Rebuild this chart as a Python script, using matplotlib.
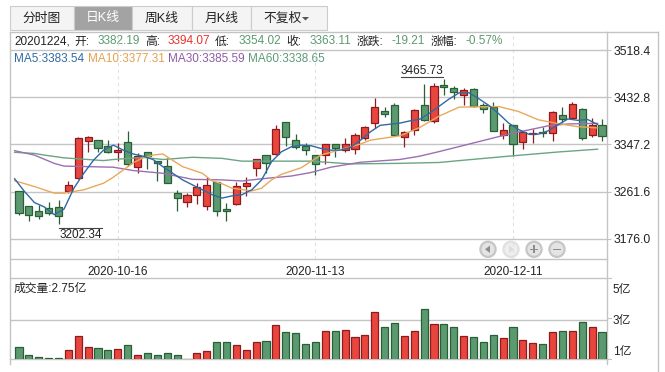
import numpy as np
import matplotlib
matplotlib.use('Agg')
import matplotlib.pyplot as plt
from matplotlib.patches import Rectangle, Circle, Polygon

plt.rcParams['font.family'] = ['Liberation Sans', 'Noto Sans CJK SC']

# Daily candles
open_p = [3262, 3235, 3226, 3231.5, 3233.3, 3262.9, 3287, 3354.1, 3354.8, 3343.9,
          3334.2, 3351.2, 3306.9, 3333.1, 3316.7, 3307.7, 3258.7, 3242.4, 3256.2, 3236.2,
          3278.6, 3229.7, 3239.8, 3272.5, 3305.1, 3327.6, 3330.5, 3387.5, 3354.8, 3343.9,
          3327.6, 3327.6, 3347.6, 3337.8, 3339.6, 3359.5, 3385.6, 3407.4, 3418.3, 3360.2,
          3374, 3418.3, 3390.4, 3454.6, 3449.7, 3437.5, 3447.3, 3418.3, 3415.8, 3365,
          3382.6, 3351.2, 3365.7, 3370.4, 3368.6, 3400.2, 3394.7, 3411, 3363.9, 3382.19]
close_p = [3223.5, 3220, 3218, 3223.5, 3218, 3273.2, 3358.4, 3360.2, 3341.4, 3334.2,
           3337.2, 3312.4, 3326.9, 3326.9, 3314.2, 3277.9, 3250.7, 3255.1, 3269.6, 3273.2,
           3226.1, 3227.1, 3271.4, 3276.8, 3320.4, 3314.2, 3374.8, 3360.2, 3343.2, 3337.8,
           3311.3, 3347.6, 3340.3, 3347.6, 3363.9, 3378.4, 3414.7, 3403.1, 3363.9, 3369.3,
           3409.2, 3391.6, 3452.8, 3450.9, 3443, 3445.5, 3417, 3411, 3372.2, 3373,
           3348.7, 3369.3, 3367.5, 3367.5, 3405.6, 3394, 3420.1, 3358.4, 3382.32, 3363.11]
high_p = [3262, 3235, 3237.5, 3242.4, 3246, 3281, 3360.2, 3362.6, 3355, 3355.4,
          3349.4, 3371.7, 3331.2, 3333.1, 3317.3, 3323.3, 3264.7, 3258.7, 3276.8, 3288.8,
          3279.5, 3241.6, 3279.2, 3287.7, 3320.4, 3327.6, 3382.6, 3387.5, 3365.7, 3350.5,
          3327.6, 3347.6, 3347.6, 3358.4, 3367.5, 3380.8, 3432.1, 3414.7, 3423, 3372.2,
          3412, 3456.4, 3458.2, 3465.73, 3452.8, 3449.1, 3450.2, 3421.9, 3423.7, 3385.6,
          3383, 3369.3, 3374.8, 3378.4, 3408.5, 3414.7, 3423.7, 3412.9, 3394.7, 3394.07]
low_p = [3220, 3208, 3211.5, 3220, 3202.34, 3258.7, 3285.2, 3334.2, 3333.1, 3331.2,
         3317.8, 3308.2, 3295, 3303.3, 3281.5, 3276.8, 3226.1, 3234.4, 3238.7, 3228.4,
         3217.5, 3209, 3236.9, 3253.8, 3290.6, 3295, 3328.7, 3345, 3338.5, 3328.7,
         3291.3, 3312.4, 3324, 3334.2, 3330, 3355.4, 3377.1, 3396.5, 3363.9, 3343.2,
         3365, 3390, 3386.7, 3436.4, 3429.2, 3418.3, 3414.7, 3403.8, 3372.2, 3357.7,
         3326.3, 3338.5, 3349.4, 3360.2, 3354.1, 3385.6, 3393.4, 3355.4, 3360.2, 3354.02]

# Volume, on the panel's own scale
volume = [1.23, 0.72, 0.59, 0.52, 0.52, 1.04, 1.94, 1.23, 1.17, 1.04,
          1.11, 1.36, 0.72, 0.85, 0.72, 0.85, 0.72, 0.48, 0.85, 0.98,
          1.56, 1.56, 1.36, 1.04, 1.56, 1.62, 2.65, 2.2, 2.14, 1.43,
          1.56, 2.27, 2.27, 2.33, 1.88, 2.01, 3.49, 2.52, 2.78, 1.94,
          2.27, 3.69, 2.72, 2.72, 2.52, 1.94, 1.88, 1.56, 2.01, 1.81,
          2.52, 1.69, 1.49, 1.43, 2.2, 2.27, 2.27, 2.85, 2.52, 2.2]

# Moving averages
ma5 = [3285, 3262, 3242, 3234, 3220, 3230, 3268, 3295, 3319, 3337,
       3346, 3337, 3330, 3326, 3320, 3307, 3295, 3283, 3274, 3265,
       3256, 3250, 3254, 3256, 3265, 3283, 3316, 3334, 3343, 3346,
       3345, 3340, 3337, 3337, 3342, 3355, 3370, 3382, 3384, 3386,
       3390, 3393, 3404, 3417, 3430, 3441, 3441, 3430, 3418, 3403,
       3386, 3374.4, 3366, 3366, 3372, 3383, 3393.5, 3391, 3392.5, 3383.54]
ma10_x = [0, 2, 4, 5, 7, 9, 10, 12, 13, 14, 15, 17, 19, 20, 21, 22, 24, 25, 26, 27,
          29, 31, 33, 35, 36, 39, 41, 43, 45, 49, 51, 53, 55, 57, 59]
ma10 = [3281.5, 3271, 3259, 3259, 3265, 3277, 3288, 3314, 3323, 3328, 3330, 3307, 3295, 3281, 3276, 3268, 3263, 3268, 3283, 3293,
        3305, 3328, 3338, 3348, 3355, 3363, 3378, 3399, 3415, 3416, 3407, 3392, 3385, 3379.5, 3377.31]
ma30_x = [0, 2, 4, 5, 10, 12, 15, 18, 21, 23, 25, 28, 30, 32, 35, 39, 41, 43, 46, 50, 52, 54, 56, 59]
ma30 = [3336, 3328, 3313, 3308, 3306, 3300, 3295, 3284, 3283, 3281, 3285, 3290, 3296.4, 3306, 3315, 3320, 3326, 3334.5, 3348, 3366, 3373.5, 3381, 3384.4, 3385.59]
ma60_x = [0, 2, 3, 5, 9, 10, 13, 15, 18, 21, 23, 30, 34, 39, 43, 45, 50, 55, 59]
ma60 = [3333, 3331, 3328, 3323, 3318, 3320, 3324, 3320, 3324, 3322, 3317, 3317, 3312, 3313, 3314.6, 3318, 3326, 3333.6, 3338.65]

price_ticks = [3176.0, 3261.6, 3347.2, 3432.8, 3518.4]
date_pos = [10, 30, 50]
date_labels = ['2020-10-16', '2020-11-13', '2020-12-11']
vol_ticks = [1, 3, 5]
vol_labels = ['1亿', '3亿', '5亿']
tabs = ['分时图', '日K线', '周K线', '月K线', '不复权']

W, H = 665, 372
RED, RED_E = '#e8463c', '#8c1a1f'
GREEN, GREEN_E = '#5b9a70', '#2a5f36'
GRID = '#c4c4c4'
TXT = '#222222'
FS = 8.5


def pix_axes(fig, x0, x1, y0, y1):
    return fig.add_axes([x0 / W, 1 - y1 / H, (x1 - x0) / W, (y1 - y0) / H])


fig = plt.figure(figsize=(W / 100, H / 100), dpi=100)

# Overlay in pixel coordinates for the frame, tabs and text rows
bg = fig.add_axes([0, 0, 1, 1], zorder=0)
bg.set_xlim(0, W)
bg.set_ylim(H, 0)
bg.axis('off')

tab_edges = [10, 74, 132, 192, 251, 327]
for i, name in enumerate(tabs):
    active = i == 1
    bg.add_patch(Rectangle((tab_edges[i], 5.5), tab_edges[i + 1] - tab_edges[i], 24.5,
                           fc='#a3a3a3' if active else '#f4f4f4', ec='#cccccc', lw=0.8))
    cx = (tab_edges[i] + tab_edges[i + 1]) / 2
    if i == 4:
        cx -= 6
    bg.text(cx, 18.5, name, ha='center', va='center', fontsize=9.2,
            color='white' if active else TXT)
bg.add_patch(Polygon([[302, 17], [309, 17], [305.5, 20.5]], fc='#555555', ec='none'))

# Outer frame
bg.plot([10, 658], [32, 32], color=GRID, lw=1)
bg.plot([10, 10], [32, 364], color=GRID, lw=1)
bg.plot([607, 607], [32, 364], color=GRID, lw=1)
bg.plot([658, 658], [32, 372], color=GRID, lw=1)
bg.plot([10, 607], [259.3, 259.3], color=GRID, lw=1)

# Quote row
quote = [(14, '20201224,', TXT), (74, '开:', TXT), (98, '3382.19', GREEN), (145, '高:', TXT),
         (168, '3394.07', '#e8322c'), (215, '低:', TXT), (239, '3354.02', GREEN), (286, '收:', TXT),
         (310, '3363.11', GREEN), (357, '涨跌:', TXT), (392, '-19.21', GREEN), (431, '涨幅:', TXT),
         (466, '-0.57%', GREEN)]
for x, s, c in quote:
    bg.text(x, 41.5, s, ha='left', va='center', fontsize=FS, color=c)

ma_row = [(14, 'MA5:3383.54', '#2f6aa3'), (88, 'MA10:3377.31', '#e5a04a'),
          (168, 'MA30:3385.59', '#8e5ba6'), (248, 'MA60:3338.65', '#5c9a78')]
for x, s, c in ma_row:
    bg.text(x, 59.5, s, ha='left', va='center', fontsize=FS, color=c)

bg.text(14, 288.5, '成交量:2.75亿', ha='left', va='center', fontsize=FS, color=TXT)

# Price panel
ax = pix_axes(fig, 10, 607, 32, 259.3)
ax.patch.set_alpha(0)
ax.set_zorder(1)
n = len(open_p)
idx = np.arange(n)
ax.set_xlim(-0.911, 59.51)
ax.set_ylim(3139, 3551.2)

ax.set_yticks(price_ticks)
ax.set_yticklabels(['%.1f' % v for v in price_ticks], fontsize=FS + 0.3, color=TXT)
ax.yaxis.tick_right()
ax.tick_params(axis='y', length=3, width=0.8, color=GRID, pad=1.5)
ax.set_xticks(date_pos)
ax.set_xticklabels(date_labels, fontsize=FS, color=TXT)
ax.tick_params(axis='x', length=0, pad=5)
ax.grid(axis='y', color=GRID, lw=1)
ax.grid(axis='x', color='#e0e0e0', lw=0.8, ls=(0, (3, 3)))
ax.set_axisbelow(True)
for sp in ax.spines.values():
    sp.set_visible(False)

up = np.array(close_p) >= np.array(open_p)
face = [RED if u else GREEN for u in up]
edge = [RED_E if u else GREEN_E for u in up]
ax.vlines(idx, low_p, high_p, colors=edge, lw=0.9, zorder=3)
bottoms = np.minimum(open_p, close_p)
heights = np.abs(np.array(close_p) - np.array(open_p))
ax.bar(idx, heights, bottom=bottoms, width=0.72, color=face, edgecolor=edge, lw=0.9, zorder=4)

# The average lines sit a little left of the candle centres in the reference
shift = -0.445
ax.plot(np.array(ma60_x) + shift, ma60, color='#6aa585', lw=1, zorder=5)
ax.plot(np.array(ma30_x) + shift, ma30, color='#9c6fb3', lw=1, zorder=5)
ax.plot(np.array(ma10_x) + shift, ma10, color='#e8a95a', lw=1, zorder=5)
ax.plot(idx + shift, ma5, color='#2f6aa3', lw=1, zorder=6)

# High and low markers, with their rules
bg.text(422, 70.5, '3465.73', ha='center', va='center', fontsize=FS, color=TXT)
bg.plot([401, 443], [76.5, 76.5], color='#444444', lw=0.8)
bg.text(80.5, 234.5, '3202.34', ha='center', va='center', fontsize=FS, color=TXT)
bg.plot([59, 102], [227.5, 227.5], color='#444444', lw=0.8)

# Navigation buttons
for k, cx in enumerate([488, 511, 534, 557]):
    light = k == 1
    bg.add_patch(Circle((cx, 249.3), 7.6, fc='#eeeeee' if light else '#e4e4e4',
                        ec='#e0e0e0' if light else '#c6c6c6', lw=1.6, zorder=8))
    col = '#dddddd' if light else '#8d8d8d'
    if k == 0:
        bg.add_patch(Polygon([[cx + 2, 245.5], [cx + 2, 253], [cx - 3, 249.3]], fc=col, ec='none', zorder=9))
    elif k == 1:
        bg.add_patch(Polygon([[cx - 2, 245.5], [cx - 2, 253], [cx + 3, 249.3]], fc=col, ec='none', zorder=9))
    else:
        bg.add_patch(Rectangle((cx - 4, 248.5), 8, 1.6, fc=col, ec='none', zorder=9))
        if k == 2:
            bg.add_patch(Rectangle((cx - 0.8, 245.3), 1.6, 8, fc=col, ec='none', zorder=9))

for cx in [117.5, 316, 512.5]:
    bg.plot([cx, cx], [271, 278], color='#e0e0e0', lw=0.8, ls=(0, (3, 3)))

# Volume panel
vx = pix_axes(fig, 10, 607, 278.3, 359.3)
vx.patch.set_alpha(0)
vx.set_zorder(1)
vx.set_xlim(-0.911, 59.51)
vx.set_ylim(0.46, 5.69)
vx.bar(idx, volume, width=0.72, color=face, edgecolor=edge, lw=0.9, zorder=3)
vx.set_xticks([])
vx.set_yticks(vol_ticks)
vx.set_yticklabels(vol_labels, fontsize=FS, color=TXT)
vx.yaxis.tick_right()
vx.tick_params(axis='y', length=0, pad=4)
vx.axhline(3, color=GRID, lw=1, zorder=1)
for sp in ['left', 'right']:
    vx.spines[sp].set_visible(False)
for sp in ['top', 'bottom']:
    vx.spines[sp].set_color(GRID)
    vx.spines[sp].set_linewidth(1)
bg.plot([607, 611], [278.3, 278.3], color=GRID, lw=0.8)
bg.plot([607, 611], [318.3, 318.3], color=GRID, lw=0.8)
bg.plot([607, 611], [359.3, 359.3], color=GRID, lw=0.8)

fig.savefig('out.png', dpi=100)
